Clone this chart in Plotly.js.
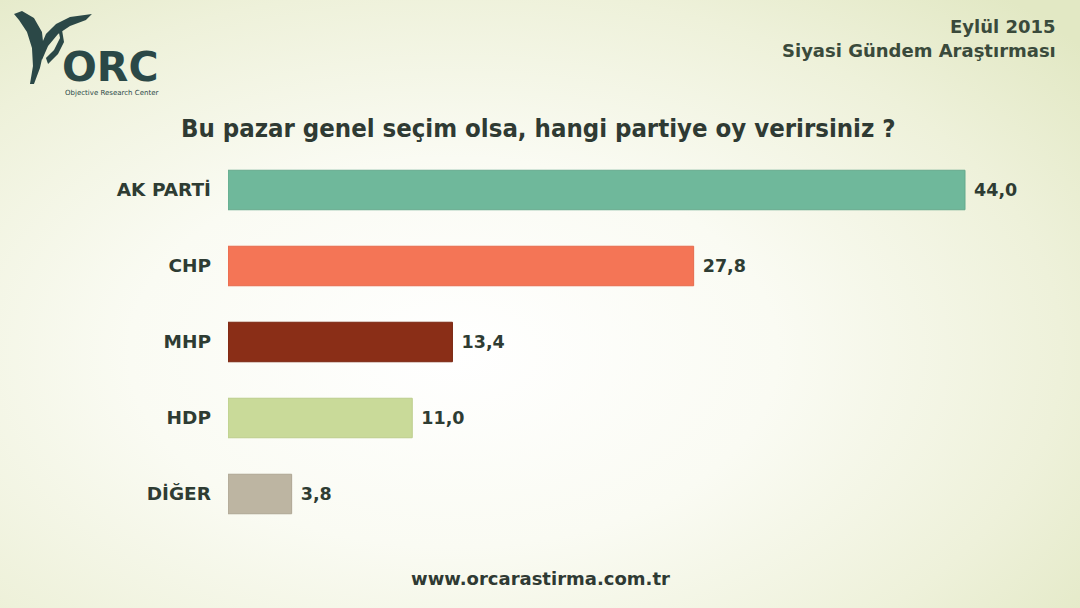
<!DOCTYPE html>
<html>
<head>
<meta charset="utf-8">
<script src="https://cdn.plot.ly/plotly-3.0.1.min.js"></script>
<style>
  html, body { margin:0; padding:0; }
  body {
    width:1080px; height:608px; overflow:hidden;
    background: radial-gradient(ellipse 75% 80% at 42% 58%, #ffffff 0%, #fafbf3 40%, #eef1da 75%, #e2e8c4 100%);
  }
  #chart { width:1080px; height:608px; }
</style>
</head>
<body>
<div id="chart"></div>
<script>
// values
const parties = ['AK PARTİ', 'CHP', 'MHP', 'HDP', 'DİĞER'];
const votes   = [44.0, 27.8, 13.4, 11.0, 3.8];
const colors  = ['#6fb89b', '#f47556', '#8a2e17', '#c9da99', '#bdb5a2'];
const edges   = ['#64a98c', '#e66a4c', '#7a2712', '#bccd8c', '#aea693'];

const W = 1080, H = 608;
const M = { l:228, r:20, t:152, b:76 };
const PW = W - M.l - M.r, PH = H - M.t - M.b;
const TXT = '#2e3c33';

// pixel -> paper helpers (for the logo and texts)
function px(x){ return (x - M.l) / PW; }
function py(y){ return (H - M.b - y) / PH; }
function pathFromPx(pts){
  return 'M' + pts.map(p => px(p[0]).toFixed(4) + ',' + py(p[1]).toFixed(4)).join(' L') + ' Z';
}

const data = [{
  type:'bar',
  orientation:'h',
  x: votes,
  y: parties,
  marker:{ color: colors, line:{ color: edges, width:1 } },
  width: 0.52,
  text: votes,
  texttemplate:' %{x:.1f}',
  textposition:'outside',
  cliponaxis:false,
  outsidetextfont:{ family:'DejaVu Sans', size:17.5, color:TXT, weight:'bold' },
  hoverinfo:'none'
}];

const logoColor = '#2b4847';
const leafA = [[14,14],[22,11],[34,18],[42,32],[44,50],[40,68],[34,84],[30,84],[33,66],[32,48],[27,32],[19,20]];
const leafB = [[40,48],[46,34],[56,24],[70,17],[92,14],[86,20],[70,26],[58,34],[48,46],[42,60]];
const leafC = [[46,58],[54,50],[60,38],[58,28],[62,30],[64,42],[58,54],[48,64]];

const layout = {
  width:W, height:H,
  margin:M,
  paper_bgcolor:'rgba(0,0,0,0)',
  plot_bgcolor:'rgba(0,0,0,0)',
  separators:',.',
  showlegend:false,
  bargap:0.48,
  xaxis:{ range:[0, PW/16.75], visible:false, fixedrange:true },
  yaxis:{
    autorange:'reversed',
    showgrid:false, zeroline:false, showline:false,
    ticks:'', ticklabelstandoff:16,
    tickfont:{ family:'DejaVu Sans', size:18.5, color:TXT, weight:'bold' }
  },
  shapes:[
    { type:'path', xref:'paper', yref:'paper', path:pathFromPx(leafA), fillcolor:logoColor, line:{ width:0 } },
    { type:'path', xref:'paper', yref:'paper', path:pathFromPx(leafB), fillcolor:logoColor, line:{ width:0 } },
    { type:'path', xref:'paper', yref:'paper', path:pathFromPx(leafC), fillcolor:logoColor, line:{ width:0 } }
  ],
  annotations:[
    { xref:'paper', yref:'paper', x:px(538), y:py(128), xanchor:'center', yanchor:'middle', showarrow:false,
      text:'Bu pazar genel seçim olsa, hangi partiye oy verirsiniz ?',
      font:{ family:'Liberation Sans Narrow, DejaVu Sans Condensed, Liberation Sans', size:25.5, color:'#2f3a33', weight:'bold' } },
    { xref:'paper', yref:'paper', x:px(1058), y:py(26), xanchor:'right', yanchor:'middle', showarrow:false,
      text:'Eylül 2015', font:{ family:'DejaVu Sans', size:18, color:'#3a4a3b', weight:'bold' } },
    { xref:'paper', yref:'paper', x:px(1058), y:py(50), xanchor:'right', yanchor:'middle', showarrow:false,
      text:'Siyasi Gündem Araştırması', font:{ family:'DejaVu Sans', size:18, color:'#3a4a3b', weight:'bold' } },
    { xref:'paper', yref:'paper', x:px(540), y:py(578), xanchor:'center', yanchor:'middle', showarrow:false,
      text:'www.orcarastirma.com.tr', font:{ family:'DejaVu Sans', size:18, color:'#2f3a33', weight:'bold' } },
    { xref:'paper', yref:'paper', x:px(60), y:py(67), xanchor:'left', yanchor:'middle', showarrow:false,
      text:'ORC', font:{ family:'DejaVu Sans', size:41, color:logoColor, weight:'bold' } },
    { xref:'paper', yref:'paper', x:px(63), y:py(93), xanchor:'left', yanchor:'middle', showarrow:false,
      text:'Objective Research Center', font:{ family:'DejaVu Sans', size:7, color:logoColor } }
  ]
};

Plotly.newPlot('chart', data, layout, { displayModeBar:false, staticPlot:true });
</script>
</body>
</html>
